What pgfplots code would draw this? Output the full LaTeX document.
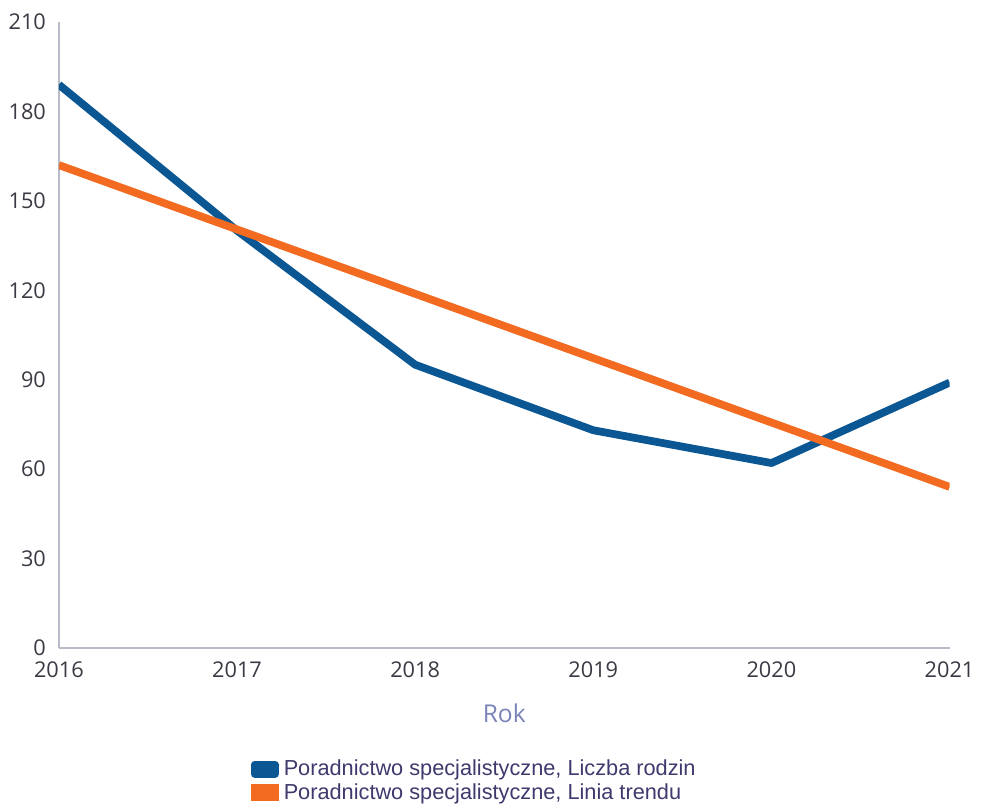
\documentclass[border=0pt]{standalone}
\usepackage{fontspec}
\setmainfont{Open Sans}
\newfontfamily\legfont{Liberation Sans}
\usepackage{pgfplots}
\pgfplotsset{compat=1.18}
\definecolor{serblue}{HTML}{0A5794}
\definecolor{serorange}{HTML}{F26B21}
\definecolor{axgray}{HTML}{B8BCC8}
\definecolor{ticktext}{HTML}{3A3A44}
\definecolor{rokcol}{HTML}{7A84B8}
\definecolor{legtext}{HTML}{3E3A6E}
\begin{document}
\begin{tikzpicture}
\begin{axis}[
    scale only axis,
    width=12.1cm, height=8.5cm,
    xmin=2016, xmax=2021,
    ymin=0, ymax=210,
    xtick={2016,...,2021},
    ytick={0,30,...,210},
    xticklabel style={/pgf/number format/1000 sep={}},
    /pgf/number format/assume math mode=true,
    tick style={draw=none},
    tick label style={font=\fontsize{8.4}{10}\selectfont, text=ticktext},
    xticklabel style={yshift=-2pt},
    yticklabel style={xshift=-1.5pt},
    axis x line*=bottom, axis y line*=left,
    axis line style={draw=axgray, line width=0.6pt, -},
    xlabel={Rok},
    xlabel style={font=\fontsize{9.5}{11}\selectfont, text=rokcol, yshift=-3pt},
    legend style={at={(0.215,-0.17)}, anchor=north west, draw=none,
        font=\legfont\fontsize{8.4}{9}\selectfont, text=legtext,
        row sep=-2.5pt, inner sep=0pt},
    legend cell align=left,
    legend image code/.code={\fill[#1] (0cm,-0.06cm) rectangle (0.27cm,0.07cm);},
]
\addplot[serblue, line width=3pt, line join=round] coordinates {
    (2016,189) (2017,140) (2018,95) (2019,73) (2020,62) (2021,89)
};
\addlegendentry{Poradnictwo specjalistyczne, Liczba rodzin}
\addplot[serorange, line width=3pt] coordinates {
    (2016,162) (2017,140.4) (2018,118.8) (2019,97.2) (2020,75.6) (2021,54)
};
\addlegendentry{Poradnictwo specjalistyczne, Linia trendu}
\end{axis}
\path (current axis.north) ++(0,0.3cm);
\end{tikzpicture}
\end{document}
